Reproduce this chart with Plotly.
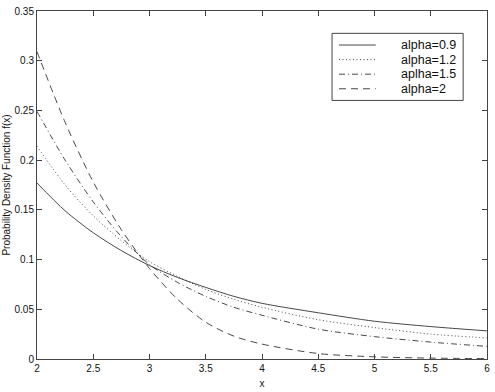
import plotly.graph_objects as go

x_vals = [2, 2.25, 2.5, 2.75, 3, 3.25, 3.5, 3.75, 4, 4.5, 5, 5.5, 6]
alpha_09 = [0.177, 0.149, 0.127, 0.109, 0.094, 0.082, 0.072, 0.063, 0.056, 0.0465, 0.038, 0.0326, 0.0283]
alpha_12 = [0.214, 0.175, 0.144, 0.119, 0.098, 0.083, 0.070, 0.060, 0.052, 0.0395, 0.0316, 0.025, 0.0212]
alpha_15 = [0.249, 0.200, 0.158, 0.123, 0.095, 0.077, 0.063, 0.052, 0.044, 0.030, 0.0225, 0.017, 0.0127]
alpha_2 = [0.309, 0.238, 0.178, 0.130, 0.091, 0.060, 0.037, 0.023, 0.015, 0.0055, 0.0022, 0.0009, 0.0004]

series_names = ["alpha=0.9", "alpha=1.2", "aplha=1.5", "alpha=2"]
series_values = [alpha_09, alpha_12, alpha_15, alpha_2]
dashes = ["solid", "1px,2.5px", "6px,3px,1px,3px", "7px,5px"]

x_ticks = [2, 2.5, 3, 3.5, 4, 4.5, 5, 5.5, 6]
x_tick_labels = ["2", "2.5", "3", "3.5", "4", "4.5", "5", "5.5", "6"]
y_ticks = [0, 0.05, 0.1, 0.15, 0.2, 0.25, 0.3, 0.35]
y_tick_labels = ["0", "0.05", "0.1", "0.15", "0.2", "0.25", "0.3", "0.35"]

LINE = "#333333"
AX = "#444444"
FONT = "Liberation Sans, Arial, sans-serif"

fig = go.Figure()
for name, vals, d in zip(series_names, series_values, dashes):
    fig.add_trace(go.Scatter(x=x_vals, y=vals, mode="lines", name=name,
                             line=dict(color=LINE, width=0.9, dash=d, shape="spline", smoothing=0.8),
                             showlegend=False))

# manual legend (paper coords)
W, H = 495, 392
L, R, T, B = 37, 5, 6, 28
pw, ph = W - L - R, H - T - B
def px(xp):
    return (xp - L) / pw
def py(yp):
    return (H - B - yp) / ph

shapes = [dict(type="rect", xref="paper", yref="paper",
               x0=px(334), x1=px(466), y0=py(98), y1=py(29),
               line=dict(color=AX, width=1), fillcolor="white", layer="above")]
annotations = []
rows = [41, 56, 71, 86]
for name, d, r in zip(series_names, dashes, rows):
    shapes.append(dict(type="line", xref="paper", yref="paper",
                       x0=px(341), x1=px(378), y0=py(r), y1=py(r),
                       line=dict(color=LINE, width=0.9, dash=d), layer="above"))
    annotations.append(dict(xref="paper", yref="paper", x=px(401), y=py(r),
                            text=name, showarrow=False, xanchor="left", yanchor="middle",
                            font=dict(family=FONT, size=12.5, color="#111")))

axis_common = dict(showline=True, linecolor=AX, linewidth=1, mirror="ticks",
                   ticks="inside", ticklen=5, tickcolor=AX, showgrid=False, zeroline=False,
                   tickfont=dict(family=FONT, size=10, color="#111"))

fig.update_layout(
    width=W, height=H,
    margin=dict(l=L, r=R, t=T, b=B),
    paper_bgcolor="white", plot_bgcolor="white",
    shapes=shapes, annotations=annotations,
    xaxis=dict(range=[2, 6], tickvals=x_ticks, ticktext=x_tick_labels,
               title=dict(text="x", font=dict(family=FONT, size=10, color="#111"), standoff=6),
               **axis_common),
    yaxis=dict(range=[0, 0.35], tickvals=y_ticks, ticktext=y_tick_labels,
               title=dict(text="Probability Density Function f(x)", font=dict(family=FONT, size=10, color="#111"), standoff=2),
               **axis_common),
)

fig.write_html("out.html")
